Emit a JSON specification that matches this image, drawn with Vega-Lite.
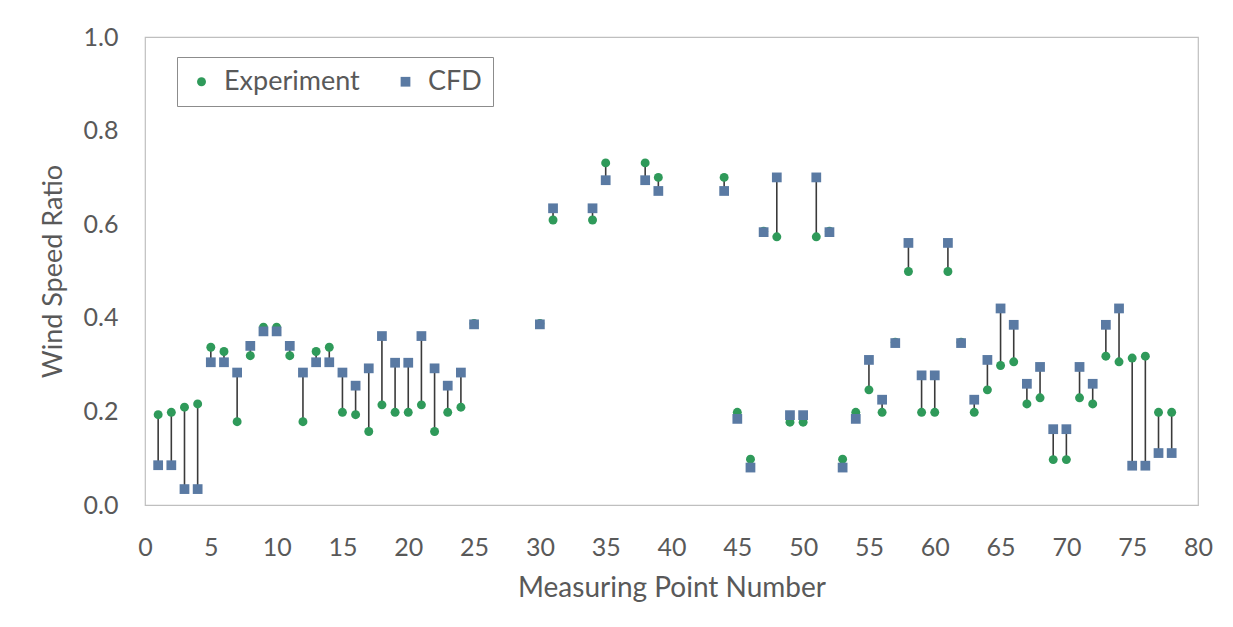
{
  "$schema": "https://vega.github.io/schema/vega-lite/v6.json",
  "width": 1053,
  "height": 468,
  "autosize": {"type": "none"},
  "padding": {"left": 145, "top": 37, "right": 35, "bottom": 122},
  "background": "white",
  "config": {
    "view": {"stroke": "#bfbfbf", "strokeWidth": 1.2},
    "font": "Lato",
    "axis": {"grid": false, "domain": false, "ticks": false, "labelColor": "#595959", "titleColor": "#595959", "labelFontSize": 25, "titleFontSize": 28, "labelFont": "Lato", "titleFont": "Lato", "titleFontWeight": "normal", "labelFlush": false}
  },
  "data": {"values": [
    {"p":1,"Experiment":0.193,"CFD":0.085},
    {"p":2,"Experiment":0.198,"CFD":0.085},
    {"p":3,"Experiment":0.209,"CFD":0.034},
    {"p":4,"Experiment":0.216,"CFD":0.034},
    {"p":5,"Experiment":0.337,"CFD":0.305},
    {"p":6,"Experiment":0.328,"CFD":0.305},
    {"p":7,"Experiment":0.178,"CFD":0.283},
    {"p":8,"Experiment":0.319,"CFD":0.34},
    {"p":9,"Experiment":0.38,"CFD":0.371},
    {"p":10,"Experiment":0.38,"CFD":0.371},
    {"p":11,"Experiment":0.319,"CFD":0.34},
    {"p":12,"Experiment":0.178,"CFD":0.283},
    {"p":13,"Experiment":0.328,"CFD":0.305},
    {"p":14,"Experiment":0.337,"CFD":0.305},
    {"p":15,"Experiment":0.198,"CFD":0.283},
    {"p":16,"Experiment":0.193,"CFD":0.255},
    {"p":17,"Experiment":0.157,"CFD":0.292},
    {"p":18,"Experiment":0.214,"CFD":0.361},
    {"p":19,"Experiment":0.198,"CFD":0.304},
    {"p":20,"Experiment":0.198,"CFD":0.304},
    {"p":21,"Experiment":0.214,"CFD":0.361},
    {"p":22,"Experiment":0.157,"CFD":0.292},
    {"p":23,"Experiment":0.198,"CFD":0.255},
    {"p":24,"Experiment":0.209,"CFD":0.283},
    {"p":25,"Experiment":0.388,"CFD":0.386},
    {"p":30,"Experiment":0.388,"CFD":0.386},
    {"p":31,"Experiment":0.609,"CFD":0.634},
    {"p":34,"Experiment":0.609,"CFD":0.634},
    {"p":35,"Experiment":0.731,"CFD":0.694},
    {"p":38,"Experiment":0.731,"CFD":0.694},
    {"p":39,"Experiment":0.70,"CFD":0.671},
    {"p":44,"Experiment":0.70,"CFD":0.671},
    {"p":45,"Experiment":0.198,"CFD":0.184},
    {"p":46,"Experiment":0.098,"CFD":0.08},
    {"p":47,"Experiment":0.585,"CFD":0.583},
    {"p":48,"Experiment":0.573,"CFD":0.70},
    {"p":49,"Experiment":0.177,"CFD":0.192},
    {"p":50,"Experiment":0.177,"CFD":0.192},
    {"p":51,"Experiment":0.573,"CFD":0.70},
    {"p":52,"Experiment":0.585,"CFD":0.583},
    {"p":53,"Experiment":0.098,"CFD":0.08},
    {"p":54,"Experiment":0.198,"CFD":0.184},
    {"p":55,"Experiment":0.246,"CFD":0.31},
    {"p":56,"Experiment":0.198,"CFD":0.225},
    {"p":57,"Experiment":0.348,"CFD":0.346},
    {"p":58,"Experiment":0.499,"CFD":0.56},
    {"p":59,"Experiment":0.198,"CFD":0.277},
    {"p":60,"Experiment":0.198,"CFD":0.277},
    {"p":61,"Experiment":0.499,"CFD":0.56},
    {"p":62,"Experiment":0.348,"CFD":0.346},
    {"p":63,"Experiment":0.198,"CFD":0.225},
    {"p":64,"Experiment":0.246,"CFD":0.31},
    {"p":65,"Experiment":0.298,"CFD":0.42},
    {"p":66,"Experiment":0.306,"CFD":0.385},
    {"p":67,"Experiment":0.216,"CFD":0.259},
    {"p":68,"Experiment":0.229,"CFD":0.295},
    {"p":69,"Experiment":0.097,"CFD":0.162},
    {"p":70,"Experiment":0.097,"CFD":0.162},
    {"p":71,"Experiment":0.229,"CFD":0.295},
    {"p":72,"Experiment":0.216,"CFD":0.259},
    {"p":73,"Experiment":0.318,"CFD":0.385},
    {"p":74,"Experiment":0.306,"CFD":0.42},
    {"p":75,"Experiment":0.314,"CFD":0.084},
    {"p":76,"Experiment":0.318,"CFD":0.084},
    {"p":77,"Experiment":0.198,"CFD":0.111},
    {"p":78,"Experiment":0.198,"CFD":0.111}
  ]},
  "encoding": {
    "x": {"field": "p", "type": "quantitative", "scale": {"domain": [0, 80], "nice": false}, "axis": {"values": [0,5,10,15,20,25,30,35,40,45,50,55,60,65,70,75,80], "title": "Measuring Point Number", "labelPadding": 30, "titlePadding": 14}}
  },
  "layer": [
    {
      "mark": {"type": "rule", "color": "#3a3a3a", "strokeWidth": 1.6},
      "encoding": {
        "y": {"field": "Experiment", "type": "quantitative", "scale": {"domain": [0, 1], "nice": false}},
        "y2": {"field": "CFD"}
      }
    },
    {
      "transform": [{"fold": ["Experiment", "CFD"], "as": ["series", "value"]}],
      "mark": {"type": "point", "filled": true, "opacity": 1},
      "encoding": {
        "y": {"field": "value", "type": "quantitative", "scale": {"domain": [0, 1], "nice": false}, "axis": {"values": [0,0.2,0.4,0.6,0.8,1.0], "format": ".1f", "title": "Wind Speed Ratio", "labelPadding": 27, "titlePadding": 16, "titleFontSize": 27}},
        "color": {"field": "series", "type": "nominal", "scale": {"domain": ["Experiment", "CFD"], "range": ["#2f9a5a", "#5a7aa3"]},
          "legend": {"title": null, "orient": "none", "legendX": 32, "legendY": 20, "direction": "horizontal", "labelFontSize": 27, "labelColor": "#595959", "labelFont": "Lato", "symbolSize": 50, "strokeColor": "#8c8c8c", "padding": 11, "columnPadding": 32, "labelOffset": 9}},
        "shape": {"field": "series", "type": "nominal", "scale": {"domain": ["Experiment", "CFD"], "range": ["circle", "square"]}},
        "size": {"field": "series", "type": "nominal", "scale": {"domain": ["Experiment", "CFD"], "range": [80, 95]}, "legend": null},
        "order": {"field": "series", "sort": "descending"}
      }
    }
  ]
}
